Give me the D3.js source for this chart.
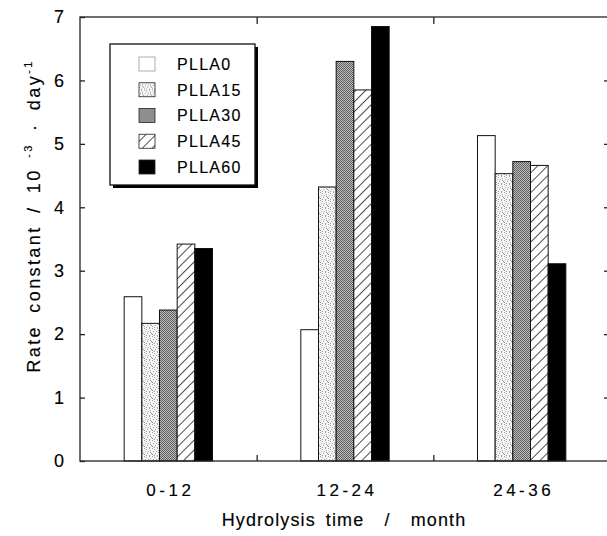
<!DOCTYPE html>
<html>
<head>
<meta charset="utf-8">
<script src="https://cdn.jsdelivr.net/npm/d3@7"></script>
<style>
  html, body { margin: 0; padding: 0; background: #fff; }
  svg { display: block; font-family: "Liberation Sans", Arial, Helvetica, sans-serif; }
  svg text { stroke: #000; stroke-width: 0.15px; }
</style>
</head>
<body>
<svg id="chart" width="607" height="536"></svg>
<script>
// Hydrolysis rate constants (10^-3 day^-1) per time interval and copolymer
const periods = ["0-12", "12-24", "24-36"];
const series = ["PLLA0", "PLLA15", "PLLA30", "PLLA45", "PLLA60"];
const PLLA0  = [2.59, 2.07, 5.13];
const PLLA15 = [2.17, 4.32, 4.53];
const PLLA30 = [2.38, 6.30, 4.72];
const PLLA45 = [3.42, 5.85, 4.66];
const PLLA60 = [3.35, 6.85, 3.11];
const yTicks = [0, 1, 2, 3, 4, 5, 6, 7];

const values = [PLLA0, PLLA15, PLLA30, PLLA45, PLLA60];
const rows = [];
periods.forEach((p, i) => series.forEach((s, j) => rows.push({ period: p, series: s, value: values[j][i] })));

const svg = d3.select("#chart");
const plotL = 80, plotR = 610, plotT = 17, plotB = 461;

const x0 = d3.scaleBand().domain(periods).range([plotL, plotR]).paddingInner(0.5).paddingOuter(0.25);
const x1 = d3.scaleBand().domain(series).range([0, x0.bandwidth()]);
const y = d3.scaleLinear().domain([0, 7]).range([plotB, plotT]);

// fill patterns
const defs = svg.append("defs");

// light sparse stipple
const p15 = defs.append("pattern").attr("id", "fill15").attr("patternUnits", "userSpaceOnUse")
  .attr("width", 8).attr("height", 8);
p15.append("rect").attr("width", 8).attr("height", 8).attr("fill", "#f6f6f6");
[[0,0],[2,1],[5,0],[1,3],[4,3],[6,2],[3,5],[7,5],[0,6],[5,7],[2,7],[6,4]].forEach(([a, b]) =>
  p15.append("rect").attr("x", a).attr("y", b).attr("width", 1).attr("height", 1).attr("fill", "#9c9c9c"));

// dense dark stipple
const p30 = defs.append("pattern").attr("id", "fill30").attr("patternUnits", "userSpaceOnUse")
  .attr("width", 2).attr("height", 2);
p30.append("rect").attr("width", 2).attr("height", 2).attr("fill", "#bdbdbd");
p30.append("rect").attr("x", 0).attr("y", 0).attr("width", 1).attr("height", 1).attr("fill", "#5e5e5e");
p30.append("rect").attr("x", 1).attr("y", 1).attr("width", 1).attr("height", 1).attr("fill", "#5e5e5e");

// diagonal hatch
const p45 = defs.append("pattern").attr("id", "fill45").attr("patternUnits", "userSpaceOnUse")
  .attr("width", 7).attr("height", 7).attr("patternTransform", "rotate(45)");
p45.append("rect").attr("width", 7).attr("height", 7).attr("fill", "#fff");
p45.append("line").attr("x1", 0).attr("y1", 0).attr("x2", 0).attr("y2", 7)
  .attr("stroke", "#111").attr("stroke-width", 1.5);

const fills = { PLLA0: "#fff", PLLA15: "url(#fill15)", PLLA30: "url(#fill30)", PLLA45: "url(#fill45)", PLLA60: "#000" };

// bars
svg.append("g").selectAll("rect").data(rows).join("rect")
  .attr("x", d => x0(d.period) + x1(d.series))
  .attr("y", d => y(d.value))
  .attr("width", x1.bandwidth())
  .attr("height", d => y(0) - y(d.value))
  .attr("fill", d => fills[d.series])
  .attr("stroke", "#111")
  .attr("stroke-width", 1);

// frame
const frame = svg.append("g").attr("stroke", "#222").attr("stroke-width", 1.3).attr("fill", "none");
frame.append("rect").attr("x", plotL).attr("y", plotT).attr("width", plotR - plotL).attr("height", plotB - plotT);

// left and right ticks
const yAxisL = d3.axisLeft(y).tickValues(yTicks).tickFormat(d3.format("d"))
  .tickSizeInner(-5).tickSizeOuter(0).tickPadding(16);
const gL = svg.append("g").attr("transform", `translate(${plotL},0)`).call(yAxisL);
gL.select(".domain").remove();
gL.selectAll(".tick line").attr("stroke", "#222").attr("stroke-width", 1.3);
gL.selectAll(".tick text").attr("font-size", 18).attr("fill", "#000")
  .attr("font-family", "'Liberation Sans', Arial, sans-serif");

const yAxisR = d3.axisRight(y).tickValues(yTicks.slice(1, -1)).tickSizeInner(-6).tickSizeOuter(0).tickFormat("");
const gR = svg.append("g").attr("transform", `translate(${plotR},0)`).call(yAxisR);
gR.select(".domain").remove();
gR.selectAll(".tick line").attr("stroke", "#222").attr("stroke-width", 1.3);

// category boundary ticks on top and bottom
const bounds = periods.slice(1).map(p => x0(p) - x0.step() * x0.paddingInner() / 2 + 0.5);
svg.append("g").selectAll("line").data(bounds).join("line")
  .attr("x1", d => d).attr("x2", d => d).attr("y1", plotB).attr("y2", plotB - 6)
  .attr("stroke", "#222").attr("stroke-width", 1.3);
svg.append("g").selectAll("line").data(bounds).join("line")
  .attr("x1", d => d).attr("x2", d => d).attr("y1", plotT).attr("y2", plotT + 7)
  .attr("stroke", "#222").attr("stroke-width", 1.3);

// category labels
svg.append("g").selectAll("text").data(periods).join("text")
  .attr("x", d => x0(d) + x0.bandwidth() / 2 + 2)
  .attr("y", 496)
  .attr("text-anchor", "middle")
  .attr("font-size", 17)
  .attr("letter-spacing", 3.5)
  .attr("fill", "#000")
  .text(d => d);

// axis titles
svg.append("text")
  .attr("x", 344).attr("y", 526)
  .attr("text-anchor", "middle")
  .attr("font-size", 18)
  .attr("letter-spacing", 1.1)
  .attr("word-spacing", 4)
  .attr("fill", "#000")
  .attr("xml:space", "preserve")
  .text("Hydrolysis time  /  month");

const yt = svg.append("text")
  .attr("transform", "translate(40,216) rotate(-90)")
  .attr("text-anchor", "middle")
  .attr("font-size", 18)
  .attr("letter-spacing", 2.4)
  .attr("word-spacing", 5)
  .attr("fill", "#000")
  .attr("xml:space", "preserve");
yt.append("tspan").text("Rate constant / 10");
yt.append("tspan").attr("font-size", 11).attr("dy", -8).text(" -3");
yt.append("tspan").attr("dy", 8).text(" · day");
yt.append("tspan").attr("font-size", 11).attr("dy", -8).text("-1");

// legend
const lg = svg.append("g");
lg.append("rect").attr("x", 113).attr("y", 47).attr("width", 145).attr("height", 141).attr("fill", "#000");
lg.append("rect").attr("x", 110).attr("y", 44).attr("width", 145).attr("height", 141)
  .attr("fill", "#fff").attr("stroke", "#111").attr("stroke-width", 1.3);
const ly = d3.scalePoint().domain(series).range([64, 167]);
const item = lg.selectAll("g.item").data(series).join("g").attr("class", "item")
  .attr("transform", d => `translate(0,${ly(d)})`);
item.append("rect").attr("x", 139).attr("y", -7).attr("width", 16).attr("height", 14)
  .attr("fill", d => fills[d])
  .attr("stroke", d => d === "PLLA0" ? "#999" : "#222").attr("stroke-width", 0.8);
item.append("text").attr("x", 177).attr("y", 0).attr("dy", "0.36em")
  .attr("font-size", 16).attr("letter-spacing", 1.3).attr("fill", "#000")
  .text(d => d);
</script>
</body>
</html>
